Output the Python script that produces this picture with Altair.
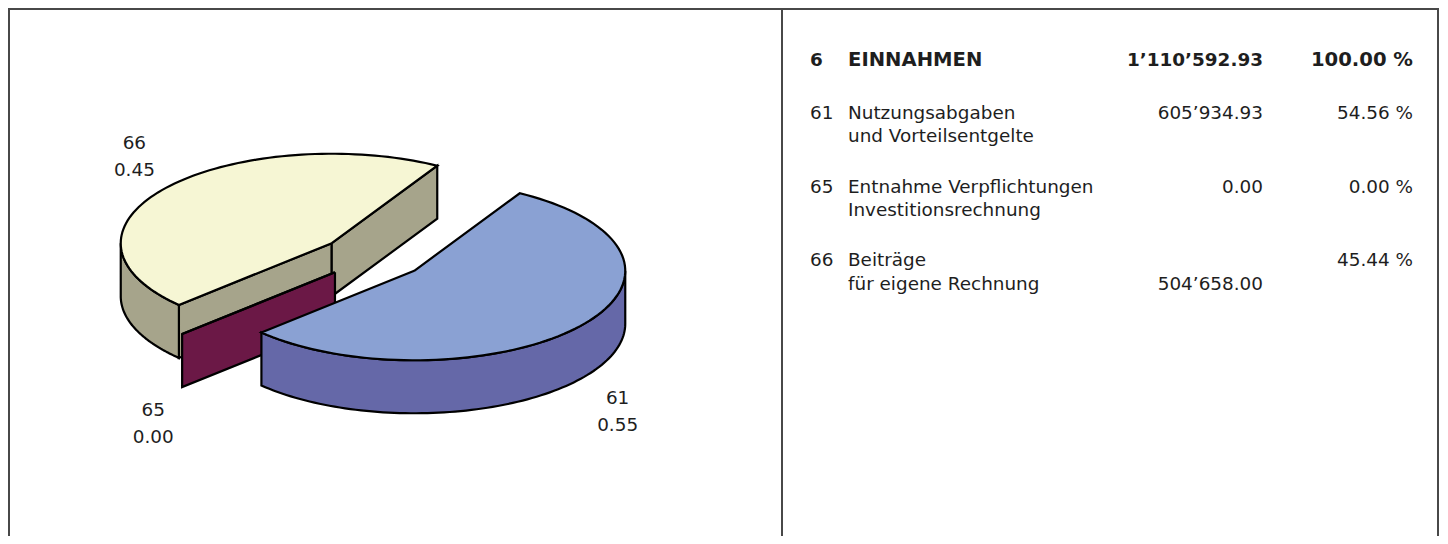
import altair as alt
import pandas as pd

# ---------------- data ----------------
codes = ["61", "65", "66"]
values = [605934.93, 0.00, 504658.00]
line1 = ["Nutzungsabgaben", "Entnahme Verpflichtungen", "Beiträge"]
line2 = ["und Vorteilsentgelte", "Investitionsrechnung", "für eigene Rechnung"]
amount_line = [0, 0, 1]
header_code = "6"
header_name = "EINNAHMEN"

top_colors = ["#8AA1D3", "#6B1846", "#F6F6D4"]
side_colors = ["#6568A8", "#6B1846", "#A6A48B"]


def fmt_amount(v):
    return f"{v:,.2f}".replace(",", "\u2019")


total = sum(values)
pie_df = pd.DataFrame({"code": codes, "value": values, "idx": list(range(len(codes)))})
tab_df = pd.DataFrame({
    "code": codes,
    "line1": line1,
    "line2": line2,
    "amount": [fmt_amount(v) for v in values],
    "pct": [f"{v / total * 100:.2f} %" for v in values],
    "row": list(range(len(codes))),
    "aline": amount_line,
})
head_df = pd.DataFrame({
    "code": [header_code],
    "name": [header_name],
    "amount": [fmt_amount(total)],
    "pct": ["100.00 %"],
})

# ---------------- layout ----------------
W, H = 1432, 528
O = 8  # page margin -> data units equal page pixels
xs = alt.Scale(domain=[O, O + W], range=[0, W], nice=False, zero=False)
ys = alt.Scale(domain=[O, O + H], range=[0, H], nice=False, zero=False)

CX, CY = 373, 257
RX, RY = 211, 89.5
DEPTH = 53
EXPL = 52.5
START = "(-PI/3)"
N = 90
FONT = "DejaVu Sans"
FS = 18.4
FSB = 19.6
TXT = "#1e1e1e"


def X(f):
    return alt.X(f"{f}:Q", scale=xs, axis=None)


def Y(f):
    return alt.Y(f"{f}:Q", scale=ys, axis=None)


base = (
    alt.Chart(pie_df)
    .transform_joinaggregate(total="sum(value)")
    .transform_window(cum="sum(value)", sort=[alt.SortField("idx", order="ascending")], frame=[None, 0])
    .transform_calculate(a0=f"{START} + 2*PI*(datum.cum - datum.value)/datum.total")
    .transform_calculate(a1=f"{START} + 2*PI*datum.cum/datum.total")
    .transform_calculate(mid="(datum.a0 + datum.a1)/2")
    .transform_calculate(cx=f"{CX} + {EXPL}*cos(datum.mid)")
    .transform_calculate(cy=f"{CY} + {EXPL}*{RY}/{RX}*sin(datum.mid)")
)


def top_face(code, color):
    return (
        base.transform_filter(f"datum.code == '{code}'")
        .transform_calculate(k=f"sequence(0, {N + 3})")
        .transform_flatten(["k"])
        .transform_calculate(tt=f"datum.a0 + (datum.a1 - datum.a0)*(datum.k - 1)/{N}")
        .transform_calculate(isc=f"datum.k == 0 || datum.k == {N + 2}")
        .transform_calculate(px=f"datum.isc ? datum.cx : datum.cx + {RX}*cos(datum.tt)")
        .transform_calculate(py=f"datum.isc ? datum.cy : datum.cy + {RY}*sin(datum.tt)")
        .mark_line(fill=color, stroke="black", strokeWidth=2.2, strokeJoin="miter")
        .encode(x=X("px"), y=Y("py"), order="k:Q")
    )


def side_face(code, color):
    return (
        base.transform_filter(f"datum.code == '{code}'")
        .transform_calculate(s0="max(datum.a0, 0)")
        .transform_calculate(s1="min(datum.a1, PI)")
        .transform_filter("datum.s1 > datum.s0")
        .transform_calculate(k=f"sequence(0, {2 * N + 3})")
        .transform_flatten(["k"])
        .transform_calculate(
            tt=(f"datum.k <= {N} ? datum.s0 + (datum.s1 - datum.s0)*datum.k/{N} : "
                f"(datum.k <= {2 * N + 1} ? datum.s1 - (datum.s1 - datum.s0)*(datum.k - {N + 1})/{N} : datum.s0)")
        )
        .transform_calculate(dz=f"(datum.k > {N} && datum.k <= {2 * N + 1}) ? {DEPTH} : 0")
        .transform_calculate(px=f"datum.cx + {RX}*cos(datum.tt)")
        .transform_calculate(py=f"datum.cy + {RY}*sin(datum.tt) + datum.dz")
        .mark_line(fill=color, stroke="black", strokeWidth=2.2, strokeJoin="miter")
        .encode(x=X("px"), y=Y("py"), order="k:Q")
    )


def walls(code, color):
    return (
        base.transform_filter(f"datum.code == '{code}'")
        .transform_calculate(w="[0, 1]")
        .transform_flatten(["w"])
        .transform_calculate(wa="datum.w == 0 ? datum.a0 : datum.a1")
        .transform_filter("datum.w == 0 ? cos(datum.a0) < 0 : cos(datum.a1) > 0")
        .transform_calculate(k="sequence(0, 5)")
        .transform_flatten(["k"])
        .transform_calculate(rim="datum.k == 1 || datum.k == 2")
        .transform_calculate(dz=f"(datum.k == 2 || datum.k == 3) ? {DEPTH} : 0")
        .transform_calculate(px=f"datum.rim ? datum.cx + {RX}*cos(datum.wa) : datum.cx")
        .transform_calculate(py=f"(datum.rim ? datum.cy + {RY}*sin(datum.wa) : datum.cy) + datum.dz")
        .mark_line(fill=color, stroke="black", strokeWidth=2.2, strokeJoin="miter")
        .encode(x=X("px"), y=Y("py"), order="k:Q", detail="w:N")
    )


pie_layers = []
for i in [2, 1, 0]:  # back to front
    pie_layers += [walls(codes[i], side_colors[i]),
                   side_face(codes[i], side_colors[i]),
                   top_face(codes[i], top_colors[i])]

labels = (
    base.transform_calculate(lx=f"datum.cx + {RX + 44}*cos(datum.mid) + 3")
    .transform_calculate(ly=f"datum.cy + {RY + 52}*sin(datum.mid) + (sin(datum.mid) > 0 ? {DEPTH} : 0) - 13")
    .transform_calculate(lab="datum.code + '\\n' + format(datum.value/datum.total, '.2f')")
    .mark_text(font=FONT, fontSize=FS, lineBreak="\n", lineHeight=27, align="center",
               baseline="middle", color=TXT)
    .encode(x=X("lx"), y=Y("ly"), text="lab:N")
)

# ---------------- table ----------------
tab = alt.Chart(tab_df).transform_calculate(ty="119 + 73.7*datum.row")
t_code = tab.mark_text(font=FONT, fontSize=FS, align="left", baseline="alphabetic", color=TXT).encode(
    x=alt.value(810 - O), y=Y("ty"), text="code:N")
t_l1 = tab.mark_text(font=FONT, fontSize=FS, align="left", baseline="alphabetic", color=TXT).encode(
    x=alt.value(848 - O), y=Y("ty"), text="line1:N")
t_l2 = tab.transform_calculate(ty2="datum.ty + 23.3").mark_text(
    font=FONT, fontSize=FS, align="left", baseline="alphabetic", color=TXT).encode(
    x=alt.value(848 - O), y=Y("ty2"), text="line2:N")
t_amt = tab.transform_calculate(ta="datum.ty + 23.3*datum.aline").mark_text(
    font=FONT, fontSize=FS, align="right", baseline="alphabetic", color=TXT).encode(
    x=alt.value(1263 - O), y=Y("ta"), text="amount:N")
t_pct = tab.mark_text(font=FONT, fontSize=FS, align="right", baseline="alphabetic", color=TXT).encode(
    x=alt.value(1413 - O), y=Y("ty"), text="pct:N")

head = alt.Chart(head_df).transform_calculate(ty="66")
h_code = head.mark_text(font=FONT, fontSize=FS, fontWeight="bold", align="left", baseline="alphabetic",
                        color=TXT).encode(x=alt.value(810 - O), y=Y("ty"), text="code:N")
h_name = head.mark_text(font=FONT, fontSize=FSB, fontWeight="bold", align="left", baseline="alphabetic",
                        color=TXT).encode(x=alt.value(848 - O), y=Y("ty"), text="name:N")
h_amt = head.mark_text(font=FONT, fontSize=FS, fontWeight="bold", align="right", baseline="alphabetic",
                       color=TXT).encode(x=alt.value(1263 - O), y=Y("ty"), text="amount:N")
h_pct = head.mark_text(font=FONT, fontSize=FSB, fontWeight="bold", align="right", baseline="alphabetic",
                       color=TXT).encode(x=alt.value(1413 - O), y=Y("ty"), text="pct:N")

# ---------------- frame ----------------
one = alt.Chart(pd.DataFrame({"a": [0]}))
BC = "#484848"
frame = [
    one.mark_rule(color=BC, strokeWidth=2).encode(x=alt.value(1), y=alt.value(0), y2=alt.value(H)),
    one.mark_rule(color=BC, strokeWidth=2).encode(x=alt.value(0), x2=alt.value(1431), y=alt.value(1)),
    one.mark_rule(color=BC, strokeWidth=2).encode(x=alt.value(1430), y=alt.value(0), y2=alt.value(H)),
    one.mark_rule(color=BC, strokeWidth=2).encode(x=alt.value(774), y=alt.value(0), y2=alt.value(H)),
]

chart = alt.layer(
    *frame, *pie_layers, labels,
    t_code, t_l1, t_l2, t_amt, t_pct, h_code, h_name, h_amt, h_pct,
).properties(
    width=W, height=H, padding=0, autosize=alt.AutoSizeParams(type="none"),
    background="white",
).configure_view(stroke=None)

chart.save("out.html", embed_options={"renderer": "svg", "actions": False})
